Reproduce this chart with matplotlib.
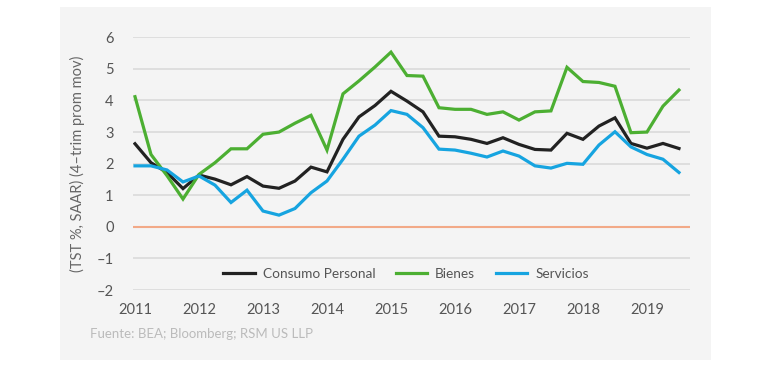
import matplotlib
matplotlib.use("Agg")
import matplotlib.pyplot as plt
from matplotlib.patches import Rectangle
import numpy as np

years = ["2011", "2012", "2013", "2014", "2015", "2016", "2017", "2018", "2019"]
series_names = ["Consumo Personal", "Bienes", "Servicios"]

consumo = [2.63, 2.03, 1.72, 1.21, 1.64, 1.51, 1.33, 1.59, 1.29, 1.22, 1.45, 1.89,
           1.74, 2.77, 3.48, 3.84, 4.29, 3.98, 3.64, 2.87, 2.85, 2.77, 2.64, 2.82,
           2.61, 2.45, 2.43, 2.96, 2.77, 3.19, 3.45, 2.64, 2.49, 2.64, 2.48]
bienes = [4.12, 2.29, 1.62, 0.88, 1.66, 2.03, 2.47, 2.47, 2.93, 3.00, 3.28, 3.53,
          2.43, 4.21, 4.62, 5.06, 5.53, 4.79, 4.77, 3.77, 3.72, 3.72, 3.56, 3.64,
          3.38, 3.64, 3.67, 5.05, 4.60, 4.57, 4.45, 2.98, 3.00, 3.82, 4.33]
servicios = [1.93, 1.93, 1.80, 1.42, 1.61, 1.32, 0.77, 1.16, 0.50, 0.37, 0.58, 1.08,
             1.45, 2.14, 2.87, 3.22, 3.68, 3.56, 3.14, 2.46, 2.43, 2.33, 2.21, 2.40,
             2.24, 1.93, 1.86, 2.01, 1.98, 2.59, 3.01, 2.53, 2.29, 2.14, 1.72]
yticks = [-2, -1, 0, 1, 2, 3, 4, 5, 6]

plt.rcParams['font.family'] = ['Lato', 'DejaVu Sans']

fig = plt.figure(figsize=(7.7, 3.67), dpi=100)
fig.patch.set_facecolor("white")
fig.add_artist(Rectangle((60/770, 7/367), (711-60)/770, (360-7)/367,
                         transform=fig.transFigure, facecolor="#f4f4f4",
                         edgecolor="none", zorder=0))

ax = fig.add_axes([133/770, 77/367, (690-133)/770, (329.7-77)/367])
ax.set_facecolor("none")

x = np.arange(len(consumo))
colors = ["#222222", "#4caf32", "#16a4e0"]
for vals, name, c in zip([consumo, bienes, servicios], series_names, colors):
    ax.plot(x, vals, color=c, lw=2.3, label=name, zorder=3, solid_joinstyle="miter")

ax.set_xlim(-0.125, 34.69)
ax.set_ylim(-2, 6)
ax.set_yticks(yticks)
ax.set_yticklabels([str(v).replace("-", "\u2013") for v in yticks])
ax.set_xticks(np.arange(0, 33, 4))
ax.set_xticklabels(years)
for y in yticks:
    if y == 0:
        ax.axhline(y, color="#f2a987", lw=1.5, zorder=2)
    else:
        ax.axhline(y, color="#dcdcdc", lw=1.3, zorder=1)
for s in ax.spines.values():
    s.set_visible(False)
ax.tick_params(axis="both", length=0, labelsize=10.5, colors="#555555")
ax.tick_params(axis="y", pad=14)
ax.tick_params(axis="x", pad=9)

ax.set_ylabel("(TST %, SAAR) (4\u2013trim prom mov)", fontsize=10.5,
              color="#666666", labelpad=8)

leg = ax.legend(loc="center", bbox_to_anchor=(0.49, 0.0625), ncol=3, frameon=False,
                fontsize=9.8, handlelength=2.3, columnspacing=1.5, handletextpad=0.6)
for t in leg.get_texts():
    t.set_color("#555555")

fig.text(90/770, 1 - 334/367, "Fuente: BEA; Bloomberg; RSM US LLP", fontsize=9.5,
         color="#bbbbbb", va="center", ha="left")

fig.savefig("out.png", dpi=100, facecolor="white")
